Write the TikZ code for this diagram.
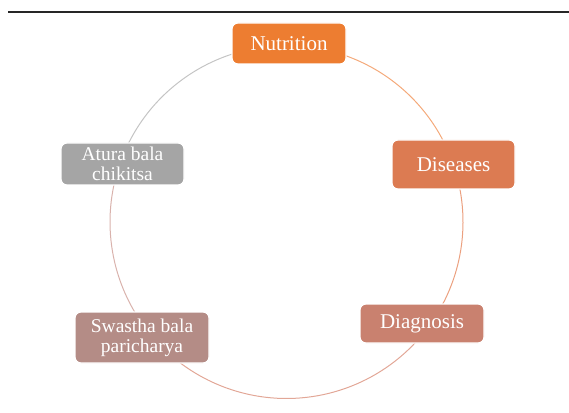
\documentclass[tikz,border=0pt]{standalone}
\usepackage{fontspec}
\setmainfont{Liberation Serif}
\definecolor{cNut}{HTML}{ED7D31}
\definecolor{cDis}{HTML}{DC7B52}
\definecolor{cAtu}{HTML}{A5A5A5}
\definecolor{cDia}{HTML}{C9816F}
\definecolor{cSwa}{HTML}{B48C86}
\definecolor{aOne}{HTML}{F4A97A}
\definecolor{aTwo}{HTML}{EBA07F}
\definecolor{aThree}{HTML}{E2A797}
\definecolor{aFour}{HTML}{D9B2AC}
\definecolor{aFive}{HTML}{C4C4C4}
\begin{document}
\begin{tikzpicture}[x=1pt,y=1pt,
  box/.style={rounded corners=6pt, draw=white, line width=1.2pt, text=white,
    align=center, font=\fontsize{21}{21}\selectfont, inner sep=0pt},
  twoline/.style={font=\fontsize{19.5}{20}\selectfont},
  ring/.style={line width=1pt}]
\useasboundingbox (0,0) rectangle (569,412);
\coordinate (c) at (286.5,190);
\coordinate (la) at (8,400);
\coordinate (lb) at (569,400);
\draw[line width=1.4pt, color=black!85] (la) -- (lb);
% ring segments
\draw[ring, aOne] (c) ++(90:176.5) arc[start angle=90, end angle=19, radius=176.5];
\draw[ring, aTwo] (c) ++(19:176.5) arc[start angle=19, end angle=-36.8, radius=176.5];
\draw[ring, aThree] (c) ++(-36.8:176.5) arc[start angle=-36.8, end angle=-141.4, radius=176.5];
\draw[ring, aFour] (c) ++(-141.4:176.5) arc[start angle=-141.4, end angle=-199.5, radius=176.5];
\draw[ring, aFive] (c) ++(160.5:176.5) arc[start angle=160.5, end angle=90, radius=176.5];
% nodes
\node[box, fill=cNut, minimum width=114pt, minimum height=41pt] (nut) at (289,368.5) {Nutrition};
\node[box, fill=cDis, minimum width=123pt, minimum height=49pt] (dis) at (453.5,247.5) {Diseases};
\node[box, fill=cDia, minimum width=124pt, minimum height=39pt] (dia) at (422,88.5) {Diagnosis};
\node[box, twoline, fill=cSwa, minimum width=134pt, minimum height=51pt] (swa) at (142,74.5) {Swastha bala\\paricharya};
\node[box, twoline, fill=cAtu, minimum width=123pt, minimum height=42pt] (atu) at (122.5,248) {Atura bala\\chikitsa};
\end{tikzpicture}
\end{document}
